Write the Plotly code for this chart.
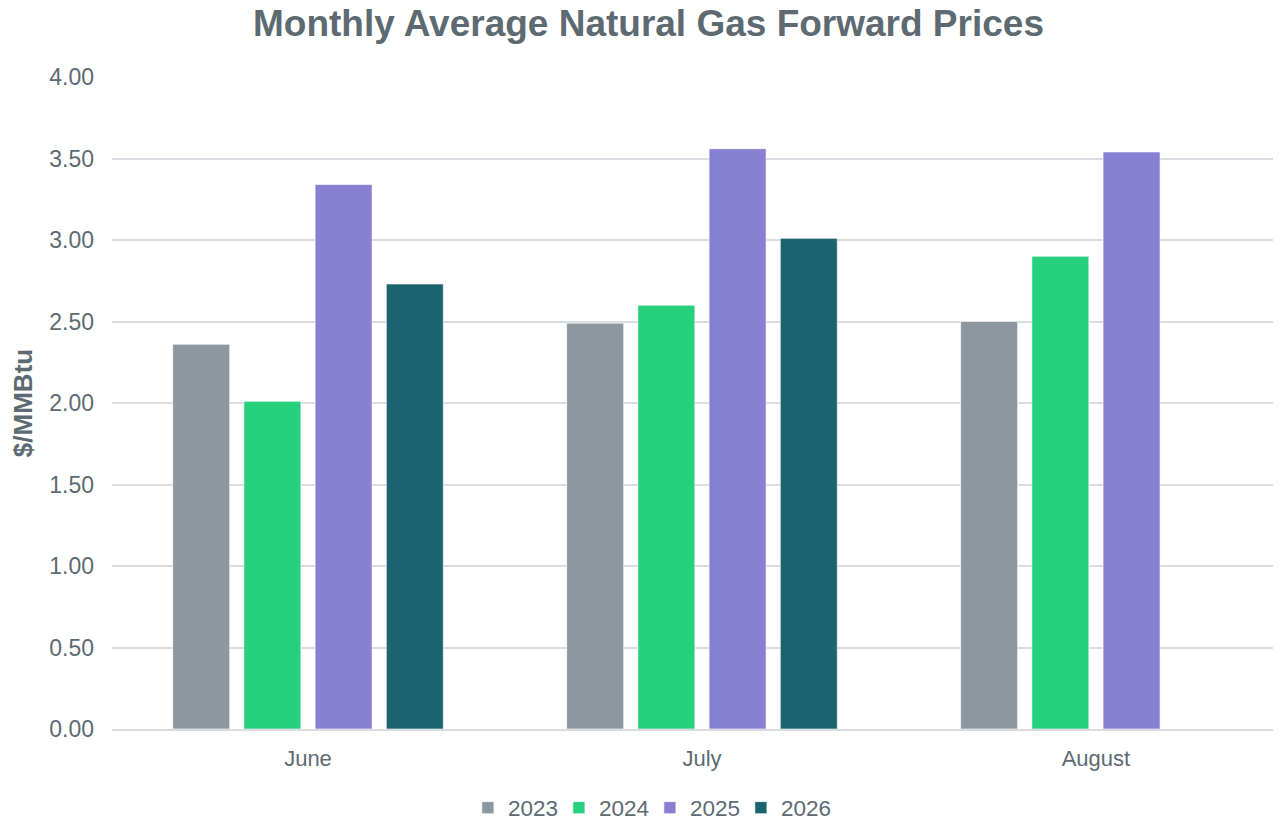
import plotly.graph_objects as go

months = ["June", "July", "August"]
years = ["2023", "2024", "2025", "2026"]
v2023 = [2.36, 2.49, 2.50]
v2024 = [2.01, 2.60, 2.90]
v2025 = [3.34, 3.56, 3.54]
v2026 = [2.73, 3.01, None]
colors = ["#8d97a0", "#26d07c", "#867fd2", "#1b636e"]

series = [v2023, v2024, v2025, v2026]
fig = go.Figure()
for name, vals, c in zip(years, series, colors):
    fig.add_trace(go.Bar(x=months, y=vals, name=name, marker_color=c,
                         marker_line=dict(color="rgba(255,255,255,0.6)", width=1)))

txt = "#5d6a72"
grid = "#d9dde1"
fig.update_layout(
    width=1281, height=822,
    paper_bgcolor="white", plot_bgcolor="white",
    font=dict(family="Liberation Sans, Arial, sans-serif", color=txt, size=22),
    title=dict(text="<b>Monthly Average Natural Gas Forward Prices</b>", x=0.5, xanchor="center",
               y=1 - 15 / 822, yanchor="middle", font=dict(size=37, color=txt)),
    margin=dict(l=104, r=0, t=69, b=101),
    barmode="group", bargap=0.277, bargroupgap=0.2,
    legend=dict(orientation="h", x=0.457, xanchor="center", y=22 / 822, yanchor="middle",
                yref="container", font=dict(size=22.5, color=txt), traceorder="normal",
                entrywidth=46, entrywidthmode="pixels"),
    xaxis=dict(range=[-0.4975, 2.49], showgrid=False, showline=True, linecolor=grid,
               linewidth=1.5, ticks="", ticklabelstandoff=9, tickfont=dict(size=22, color=txt)),
    yaxis=dict(range=[0, 4.0], dtick=0.5, tickformat=".2f", showgrid=True, gridcolor=grid,
               gridwidth=1.5, zeroline=False, ticks="", ticklabelstandoff=17,
               automargin=False, tickfont=dict(size=23, color=txt),
               title=dict(text="<b>$/MMBtu</b>", font=dict(size=26, color=txt), standoff=10)),
)
fig.write_html("out.html")
